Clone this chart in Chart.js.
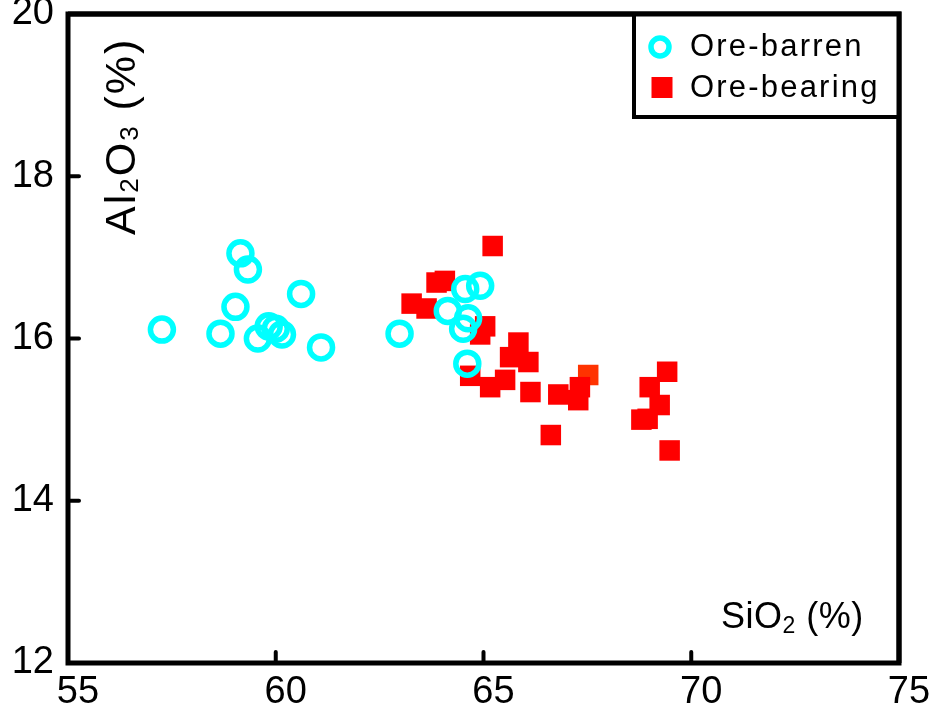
<!DOCTYPE html>
<html>
<head>
<meta charset="utf-8">
<script src="https://cdn.jsdelivr.net/npm/chart.js@4"></script>
<style>
  html, body { margin: 0; padding: 0; background: #ffffff; }
  #wrap { width: 939px; height: 718px; }
</style>
</head>
<body>
<div id="wrap"><canvas id="c" width="939" height="718"></canvas></div>
<script>
// ---- data ----
const seriesNames = ['Ore-barren', 'Ore-bearing'];

const barrenSiO2  = [57.26, 59.15, 59.33, 59.03, 58.67, 60.61, 59.57, 59.83, 60.00, 60.15, 61.09, 62.98, 64.56, 64.92, 64.14, 64.63, 64.51, 64.61];
const barrenAl2O3 = [16.11, 17.05, 16.85, 16.39, 16.06, 16.55, 16.00, 16.15, 16.12, 16.05, 15.89, 16.06, 16.61, 16.65, 16.34, 16.25, 16.12, 15.69];

const bearingSiO2  = [65.22, 63.87, 64.07, 63.27, 63.63, 65.04, 64.92, 65.84, 65.64, 66.08, 64.68, 65.16, 65.52, 66.13, 66.80, 67.52, 67.32, 67.28, 66.62, 69.42, 69.00, 69.24, 68.80, 68.95, 69.48];
const bearingAl2O3 = [17.14, 16.69, 16.71, 16.43, 16.37, 16.15, 16.05, 15.95, 15.77, 15.71, 15.54, 15.40, 15.49, 15.34, 15.31, 15.55, 15.40, 15.24, 14.81, 15.59, 15.40, 15.18, 15.00, 15.01, 14.62];

const xTicks = [55, 60, 65, 70, 75];
const yTicks = [12, 14, 16, 18, 20];

// ---- styling ----
const FONT = '"Liberation Sans", Arial, Helvetica, sans-serif';
const CYAN = '#00ffff';
const RED = '#ff0000';
const ORANGE = '#ff3300';
const orangePointIndex = 15;

const toPoints = (xs, ys) => xs.map((x, i) => ({ x: x, y: ys[i] }));

function drawRich(ctx, parts, x, y) {
  let cx = x;
  for (const [t, size, dy] of parts) {
    ctx.font = size + 'px ' + FONT;
    ctx.fillText(t, cx, y + dy);
    cx += ctx.measureText(t).width;
  }
}

const decorPlugin = {
  id: 'decor',
  afterDatasetsDraw(chart) {
    const ctx = chart.ctx;
    const a = chart.chartArea;
    const xs = chart.scales.x, ys = chart.scales.y;
    ctx.save();
    // frame
    ctx.strokeStyle = '#000';
    ctx.lineWidth = 5;
    ctx.lineJoin = 'miter';
    ctx.strokeRect(a.left, a.top, a.right - a.left, a.bottom - a.top);
    // inward tick marks
    ctx.lineWidth = 4;
    ctx.lineCap = 'round';
    ctx.beginPath();
    xTicks.slice(1, -1).forEach(v => {
      const px = xs.getPixelForValue(v);
      ctx.moveTo(px, a.bottom);
      ctx.lineTo(px, a.bottom - 11);
    });
    yTicks.slice(1, -1).forEach(v => {
      const py = ys.getPixelForValue(v);
      ctx.moveTo(a.left, py);
      ctx.lineTo(a.left + 11, py);
    });
    ctx.stroke();

    // axis titles inside plot
    ctx.fillStyle = '#000';
    ctx.textBaseline = 'alphabetic';
    ctx.textAlign = 'left';
    try { ctx.letterSpacing = '0.5px'; } catch (e) {}
    drawRich(ctx, [['SiO', 36, 0], ['2', 23, 5], [' (%)', 36, 0]], 721, 628);
    ctx.save();
    ctx.translate(135, 235);
    ctx.rotate(-Math.PI / 2);
    try { ctx.letterSpacing = '2px'; } catch (e) {}
    drawRich(ctx, [['Al', 43, 0], ['2', 26, 3], ['O', 43, 0], ['3', 26, 3], [' (%)', 43, 0]], 0, 0);
    try { ctx.letterSpacing = '0px'; } catch (e) {}
    ctx.restore();

    // legend box
    const lx = 634, ly = a.top, lw = a.right - 634, lh = 117 - a.top;
    ctx.fillStyle = '#fff';
    ctx.fillRect(lx, ly, lw, lh);
    ctx.strokeStyle = '#000';
    ctx.lineWidth = 4;
    ctx.lineCap = 'butt';
    ctx.strokeRect(lx, ly, lw, lh);
    ctx.lineWidth = 5;
    ctx.beginPath();
    ctx.moveTo(a.left, a.top); ctx.lineTo(a.right, a.top); ctx.lineTo(a.right, a.bottom);
    ctx.stroke();
    // legend markers
    ctx.strokeStyle = CYAN;
    ctx.lineWidth = 5.5;
    ctx.beginPath();
    ctx.arc(660, 47, 9, 0, Math.PI * 2);
    ctx.stroke();
    ctx.fillStyle = RED;
    ctx.fillRect(651.5, 77, 21, 21);
    // legend text
    ctx.fillStyle = '#000';
    ctx.textBaseline = 'middle';
    ctx.font = '31px ' + FONT;
    try { ctx.letterSpacing = '2.2px'; } catch (e) {}
    ctx.fillText(seriesNames[0], 690, 47);
    ctx.fillText(seriesNames[1], 690, 88);
    try { ctx.letterSpacing = '0px'; } catch (e) {}
    ctx.restore();
  }
};

new Chart(document.getElementById('c'), {
  type: 'scatter',
  data: {
    datasets: [
      {
        label: seriesNames[0],
        data: toPoints(barrenSiO2, barrenAl2O3),
        pointStyle: 'circle',
        pointRadius: 11.5,
        pointHoverRadius: 11.5,
        pointBorderWidth: 5.5,
        pointBorderColor: CYAN,
        pointBackgroundColor: 'rgba(0,0,0,0)',
        clip: false
      },
      {
        label: seriesNames[1],
        data: toPoints(bearingSiO2, bearingAl2O3),
        pointStyle: 'rect',
        pointRadius: 14.5,
        pointHoverRadius: 14.5,
        pointBorderWidth: 0,
        pointBackgroundColor: ctx => ctx.dataIndex === orangePointIndex ? ORANGE : RED,
        pointBorderColor: ctx => ctx.dataIndex === orangePointIndex ? ORANGE : RED,
        clip: false
      }
    ]
  },
  options: {
    responsive: false,
    animation: false,
    events: [],
    layout: { autoPadding: false, padding: { top: 14, right: 40, left: 0, bottom: 0 } },
    plugins: { legend: { display: false }, tooltip: { enabled: false } },
    scales: {
      x: {
        type: 'linear',
        min: 55, max: 75,
        afterFit: s => { s.height = 55; s.paddingLeft = 0; s.paddingRight = 0; },
        afterBuildTicks: s => { s.ticks = xTicks.map(v => ({ value: v })); },
        grid: { display: false, drawTicks: false },
        border: { display: false },
        ticks: {
          color: '#000',
          font: { family: FONT, size: 38 },
          padding: 7,
          labelOffset: 10,
          maxRotation: 0,
          autoSkip: false
        }
      },
      y: {
        type: 'linear',
        min: 12, max: 20,
        afterFit: s => { s.width = 68; s.paddingTop = 0; s.paddingBottom = 0; },
        afterBuildTicks: s => { s.ticks = yTicks.map(v => ({ value: v })); },
        grid: { display: false, drawTicks: false },
        border: { display: false },
        ticks: {
          color: '#000',
          font: { family: FONT, size: 38 },
          padding: 14,
          autoSkip: false
        }
      }
    }
  },
  plugins: [decorPlugin]
});
</script>
</body>
</html>
